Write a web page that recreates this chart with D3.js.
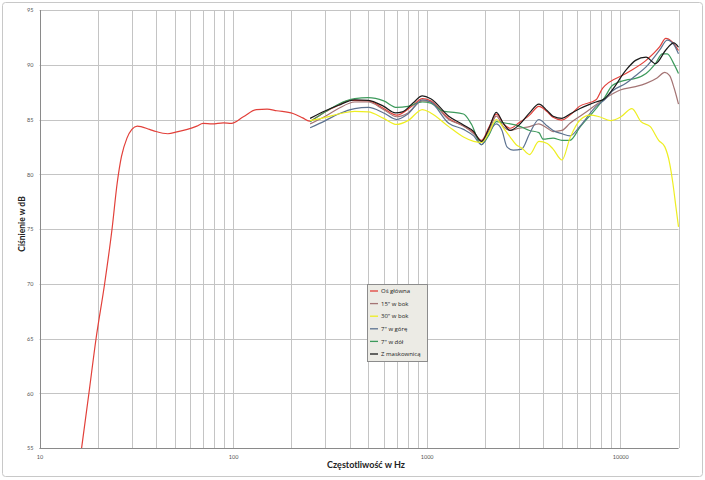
<!DOCTYPE html>
<html><head><meta charset="utf-8">
<script src="https://cdn.jsdelivr.net/npm/d3@7"></script>
<style>body{margin:0;background:#fff}svg{display:block}</style>
</head><body><svg id="c" width="705" height="480"></svg>
<script>
const xTickLabels = [10, 100, 1000, 10000];
const yTicks = [55, 60, 65, 70, 75, 80, 85, 90, 95];
const seriesNames = ["Oś główna", "15\" w bok", "30\" w bok", "7\" w górę", "7\" w dół", "Z maskownicą"];
const seriesColors = ["#e2403a", "#a47474", "#eeee22", "#5c7290", "#3d9a5c", "#1a1a1a"];

const osGlowna = [[16.5,55],[18,60],[19.6,65],[21.7,70],[23.7,75],[25.2,79.2],[26.5,81.6],[28.3,83.3],[30,84.1],[32,84.4],[37,84.1],[40,83.9],[46,83.7],[52,83.9],[58,84.1],[65,84.4],[70,84.65],[78,84.6],[89,84.7],[98,84.65],[113,85.25],[132,85.9],[150,85.95],[168,85.8],[204,85.55],[229,85.15],[248,84.85],[270,85.2],[300,85.7],[350,86.3],[400,86.75],[500,86.7],[600,86.0],[700,85.4],[850,86.3],[950,86.9],[1050,86.7],[1300,85.1],[1550,84.4],[1750,83.8],[1920,83.1],[2100,84.3],[2290,85.5],[2500,84.6],[2700,84.2],[3000,84.7],[3400,85.4],[3800,86.2],[4200,85.7],[4500,85.2],[5000,84.95],[5500,85.4],[6150,86.2],[7500,86.8],[8100,87.85],[10700,89.2],[13600,90.4],[16000,91.65],[17200,92.4],[18500,92.1],[20000,91.3]];
const bok15 = [[250,84.6],[300,85.3],[350,86.0],[425,86.6],[500,86.6],[600,85.9],[700,85.25],[800,85.6],[950,86.7],[1050,86.6],[1300,85.0],[1550,84.4],[1750,83.7],[1920,83.0],[2100,84.0],[2290,85.3],[2500,84.3],[2700,84.0],[3000,84.2],[3400,84.35],[3800,84.6],[4200,84.2],[4500,83.9],[5000,84.0],[5500,84.65],[6700,85.7],[8300,86.9],[10000,87.7],[12000,88.0],[13600,88.3],[15500,88.8],[17000,89.3],[18000,89.0],[19000,87.85],[20000,86.4]];
const bok30 = [[250,84.9],[300,85.2],[350,85.5],[425,85.75],[500,85.7],[600,85.1],[700,84.55],[800,84.9],[950,85.9],[1050,85.6],[1300,84.35],[1550,83.4],[1750,83.0],[1920,82.9],[2100,83.8],[2290,85.0],[2500,84.2],[2700,83.4],[2900,82.7],[3100,82.4],[3400,81.8],[3800,83.0],[4200,82.8],[4500,82.3],[5000,81.3],[5500,83.3],[6200,84.95],[7000,85.4],[7800,85.25],[8900,84.9],[10000,85.2],[11500,86.0],[12800,84.8],[14300,84.35],[15800,83.1],[17000,82.5],[18000,81.0],[18700,79.2],[19400,77.0],[20000,75.2]];
const gora7 = [[250,84.25],[300,84.9],[350,85.5],[425,86.0],[500,86.1],[600,85.6],[700,85.0],[800,85.5],[950,86.8],[1050,86.6],[1300,84.65],[1550,84.1],[1750,83.5],[1920,82.7],[2100,83.8],[2290,84.6],[2450,84.0],[2600,82.5],[2800,82.2],[3100,82.3],[3400,83.7],[3800,85.0],[4200,84.4],[4500,84.0],[5000,83.7],[5500,83.5],[6200,84.4],[7500,86.2],[8300,86.8],[9100,87.6],[10700,88.3],[12000,89.0],[13600,89.8],[16000,91.35],[17500,92.25],[19000,91.8],[20000,91.0]];
const dol7 = [[250,84.8],[300,85.7],[350,86.4],[425,86.9],[500,87.0],[600,86.7],[700,86.1],[800,86.2],[950,86.6],[1050,86.5],[1200,85.8],[1300,85.7],[1550,85.5],[1700,84.6],[1920,82.7],[2100,83.6],[2290,84.8],[2500,84.7],[2700,84.6],[3000,84.4],[3400,84.0],[3800,83.8],[4000,83.2],[4500,83.3],[5000,83.1],[5500,83.1],[6200,84.3],[7500,86.0],[8300,87.0],[9100,88.1],[10700,88.6],[12000,88.75],[13600,89.2],[15200,90.1],[16500,91.0],[17500,91.0],[18900,90.1],[20000,89.2]];
const maskownica = [[250,85.1],[300,85.8],[350,86.3],[425,86.8],[500,86.75],[600,86.2],[690,85.6],[750,85.7],[850,86.5],[950,87.15],[1050,86.9],[1300,85.3],[1550,84.5],[1750,83.9],[1920,83.0],[2100,84.2],[2290,85.65],[2500,84.6],[2700,84.0],[3000,84.5],[3400,85.6],[3800,86.4],[4200,85.8],[4500,85.3],[5000,85.1],[5500,85.5],[6200,86.0],[7000,86.4],[7500,86.6],[8300,86.9],[9100,87.7],[10700,89.5],[12000,90.4],[13600,90.7],[15200,90.1],[17200,91.35],[18900,92.0],[20000,91.6]];
const seriesData = [osGlowna, bok15, bok30, gora7, dol7, maskownica];

const svg = d3.select("#c");
svg.append("rect").attr("x",2.5).attr("y",2.5).attr("width",700).attr("height",474)
  .attr("fill","#fff").attr("stroke","#c8c8c8").attr("rx",3);

const x = d3.scaleLog().domain([10, 20000]).range([39.5, 678.5]);
const y = d3.scaleLinear().domain([55, 95]).range([448, 10]);

const grid = svg.append("g").attr("stroke","#c4c4c4").attr("stroke-width",1);
const xGrid = x.ticks().concat([20000]);
grid.selectAll("line.v").data(xGrid).join("line")
  .attr("x1", d => Math.round(x(d)) + 0.5).attr("x2", d => Math.round(x(d)) + 0.5)
  .attr("y1", y(95)).attr("y2", y(55));
grid.selectAll("line.h").data(yTicks).join("line")
  .attr("x1", x(10)).attr("x2", x(20000))
  .attr("y1", d => Math.round(y(d)) + 0.5).attr("y2", d => Math.round(y(d)) + 0.5);

svg.append("line").attr("x1", Math.round(x(10))+0.5).attr("x2", Math.round(x(10))+0.5)
  .attr("y1", y(95)).attr("y2", y(55)).attr("stroke","#8a8a8a");
svg.append("line").attr("x1", x(10)).attr("x2", x(20000))
  .attr("y1", Math.round(y(55))+0.5).attr("y2", Math.round(y(55))+0.5).attr("stroke","#8a8a8a");

const yAxis = svg.append("g").attr("transform", `translate(${x(10)},0)`)
  .call(d3.axisLeft(y).tickValues(yTicks).tickSize(0).tickPadding(6).tickFormat(d3.format("d")));
yAxis.select(".domain").remove();
yAxis.selectAll("text").attr("font-family","Lato, sans-serif").attr("font-size","5.5px").attr("fill","#555");

const xAxis = svg.append("g").attr("transform", `translate(0,${y(55)})`)
  .call(d3.axisBottom(x).tickValues(xTickLabels).tickSize(0).tickPadding(7).tickFormat(d3.format("d")));
xAxis.select(".domain").remove();
xAxis.selectAll("text").attr("font-family","Lato, sans-serif").attr("font-size","5.5px").attr("fill","#555");

svg.append("text").attr("x", 366).attr("y", 468).attr("text-anchor","middle")
  .attr("font-family","Lato, sans-serif").attr("font-weight","bold").attr("font-size","9px").attr("fill","#222")
  .text("Częstotliwość w Hz");
svg.append("text").attr("transform","translate(25,224) rotate(-90)").attr("text-anchor","middle")
  .attr("font-family","Lato, sans-serif").attr("font-weight","bold").attr("font-size","8.5px").attr("fill","#222")
  .text("Ciśnienie w dB");

const line = d3.line().x(d => x(d[0])).y(d => y(d[1])).curve(d3.curveMonotoneX);
const lines = svg.append("g").attr("fill","none");
const order = [0, 1, 4, 3, 2, 5];
order.forEach(i => {
  lines.append("path").datum(seriesData[i]).attr("d", line)
    .attr("stroke", seriesColors[i]).attr("stroke-width", 1.2).attr("stroke-linejoin","round");
});

const lg = svg.append("g").attr("transform","translate(367,284)");
lg.append("rect").attr("x",0.5).attr("y",0.5).attr("width",60).attr("height",77)
  .attr("fill","#ecebe5").attr("stroke","#8c8c8c");
seriesNames.forEach((n, i) => {
  const yy = 7 + i * 12.6;
  lg.append("line").attr("x1",3).attr("x2",11).attr("y1",yy).attr("y2",yy)
    .attr("stroke", seriesColors[i]).attr("stroke-width",1.3);
  lg.append("text").attr("x",14).attr("y",yy+2.2).attr("font-family","'Open Sans', sans-serif")
    .attr("font-size","6px").attr("fill","#222").text(n);
});
</script></body></html>
